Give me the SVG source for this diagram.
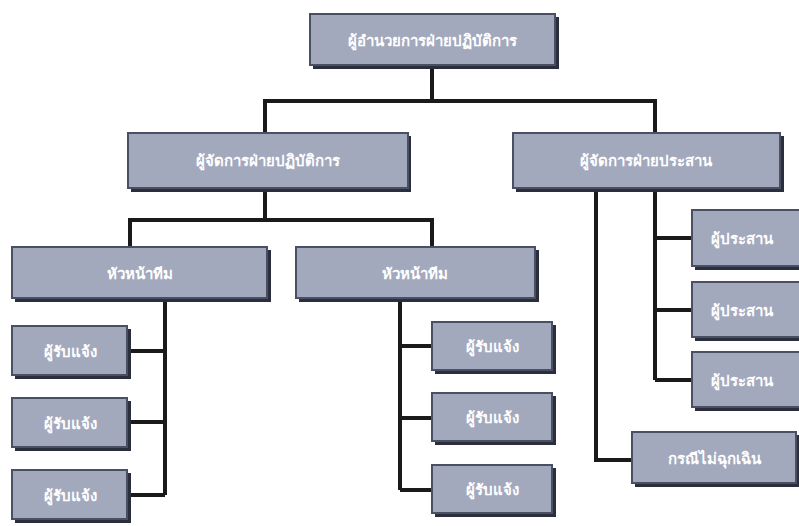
<svg xmlns="http://www.w3.org/2000/svg" width="799" height="526" viewBox="0 0 799 526">
<style>
.box rect.b{fill:#a3a9bd;stroke:#4a4f63;stroke-width:2}
.box rect.s{fill:#2b2f3d}
.box text{font-family:"Noto Sans","DejaVu Sans",sans-serif;font-size:15px;font-weight:bold;fill:#ffffff;text-anchor:middle;dominant-baseline:central}
.con path{fill:none;stroke:#1a1a1a;stroke-width:4;stroke-linejoin:miter}
</style>
<rect width="799" height="526" fill="#ffffff"/>
<g class="con">
<path d="M432 67V101M265 133V101H655V133"/>
<path d="M265 190V220M130 247V220H432V247"/>
<path d="M165 300V495M128 351H165M128 422H165M128 495H165"/>
<path d="M400 300V490M400 346H432M400 418H432M400 490H432"/>
<path d="M596 190V460H632"/>
<path d="M655 190V380M655 238H692M655 310H692M655 380H692"/>
</g>
<g id="n1" class="box"><rect class="s" x="313" y="17" width="246" height="52"/><rect class="b" x="310" y="14" width="245" height="51"/><text x="432" y="40">ผู้อำนวยการฝ่ายปฏิบัติการ</text></g>
<g id="n2" class="box"><rect class="s" x="131" y="136" width="280" height="56"/><rect class="b" x="128" y="133" width="280" height="55"/><text x="268" y="160">ผู้จัดการฝ่ายปฏิบัติการ</text></g>
<g id="n3" class="box"><rect class="s" x="516" y="136" width="268" height="56"/><rect class="b" x="513" y="133" width="267" height="55"/><text x="646" y="160">ผู้จัดการฝ่ายประสาน</text></g>
<g id="n4" class="box"><rect class="s" x="15" y="250" width="256" height="52"/><rect class="b" x="12" y="247" width="255" height="51"/><text x="140" y="273">หัวหน้าทีม</text></g>
<g id="n5" class="box"><rect class="s" x="299" y="250" width="240" height="52"/><rect class="b" x="296" y="247" width="239" height="51"/><text x="415" y="273">หัวหน้าทีม</text></g>
<g id="n6" class="box"><rect class="s" x="15" y="329" width="116" height="50"/><rect class="b" x="12" y="326" width="115" height="49"/><text x="70" y="351">ผู้รับแจ้ง</text></g>
<g id="n7" class="box"><rect class="s" x="15" y="401" width="116" height="50"/><rect class="b" x="12" y="398" width="115" height="49"/><text x="70" y="423">ผู้รับแจ้ง</text></g>
<g id="n8" class="box"><rect class="s" x="15" y="473" width="116" height="50"/><rect class="b" x="12" y="470" width="115" height="49"/><text x="70" y="495">ผู้รับแจ้ง</text></g>
<g id="n9" class="box"><rect class="s" x="435" y="325" width="121" height="49"/><rect class="b" x="432" y="322" width="120" height="48"/><text x="492" y="346">ผู้รับแจ้ง</text></g>
<g id="n10" class="box"><rect class="s" x="435" y="396" width="121" height="49"/><rect class="b" x="432" y="393" width="120" height="48"/><text x="492" y="417">ผู้รับแจ้ง</text></g>
<g id="n11" class="box"><rect class="s" x="435" y="468" width="121" height="49"/><rect class="b" x="432" y="465" width="120" height="48"/><text x="492" y="489">ผู้รับแจ้ง</text></g>
<g id="n12" class="box"><rect class="s" x="695" y="213" width="110" height="57"/><rect class="b" x="692" y="210" width="110" height="56"/><text x="742" y="238">ผู้ประสาน</text></g>
<g id="n13" class="box"><rect class="s" x="695" y="285" width="110" height="56"/><rect class="b" x="692" y="282" width="110" height="55"/><text x="742" y="310">ผู้ประสาน</text></g>
<g id="n14" class="box"><rect class="s" x="695" y="355" width="110" height="56"/><rect class="b" x="692" y="352" width="110" height="55"/><text x="742" y="380">ผู้ประสาน</text></g>
<g id="n15" class="box"><rect class="s" x="635" y="435" width="165" height="52"/><rect class="b" x="632" y="432" width="164" height="51"/><text x="714" y="458">กรณีไม่ฉุกเฉิน</text></g>
</svg>
